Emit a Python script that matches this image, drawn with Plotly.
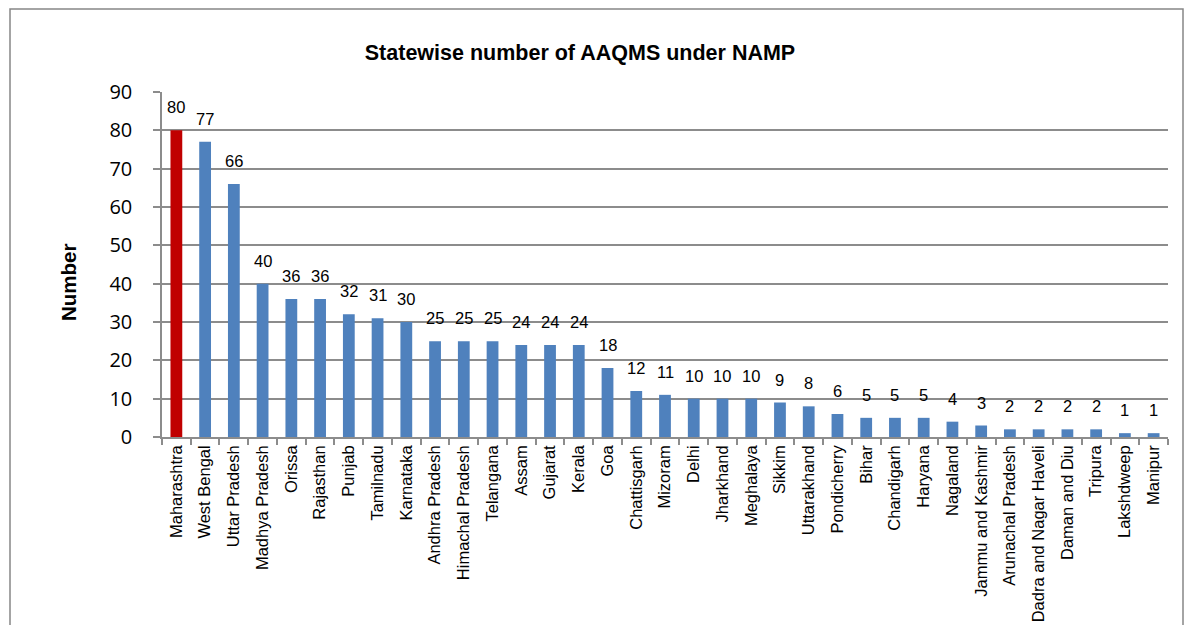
import plotly.graph_objects as go

# Number of AAQMS stations per state under NAMP
states = [
    "Maharashtra", "West Bengal", "Uttar Pradesh", "Madhya Pradesh", "Orissa",
    "Rajasthan", "Punjab", "Tamilnadu", "Karnataka", "Andhra Pradesh",
    "Himachal Pradesh", "Telangana", "Assam", "Gujarat", "Kerala", "Goa",
    "Chattisgarh", "Mizoram", "Delhi", "Jharkhand", "Meghalaya", "Sikkim",
    "Uttarakhand", "Pondicherry", "Bihar", "Chandigarh", "Haryana", "Nagaland",
    "Jammu and Kashmir", "Arunachal Pradesh", "Dadra and Nagar Haveli",
    "Daman and Diu", "Tripura", "Lakshdweep", "Manipur",
]
stations = [80, 77, 66, 40, 36, 36, 32, 31, 30, 25, 25, 25, 24, 24, 24, 18,
            12, 11, 10, 10, 10, 9, 8, 6, 5, 5, 5, 4, 3, 2, 2, 2, 2, 1, 1]

y_ticks = [0, 10, 20, 30, 40, 50, 60, 70, 80, 90]

BLUE = "#4F81BD"
RED = "#C00000"
GRID = "#8C8C8C"
label_font = "Liberation Sans Narrow, Arial Narrow, Liberation Sans, Arial, sans-serif"

colors = [RED] + [BLUE] * (len(states) - 1)

fig = go.Figure()
fig.add_trace(go.Bar(
    x=states,
    y=stations,
    marker=dict(color=colors, line=dict(width=0)),
    width=0.41,
    hoverinfo="x+y",
))

# value labels above each bar
for s, v in zip(states, stations):
    fig.add_annotation(
        x=s, y=v, text=str(v), showarrow=False,
        yanchor="bottom", yshift=12,
        font=dict(family=label_font, size=16.5, color="#000000"),
    )

L, R, T, B = 162, 16, 92, 188
W, H = 1184, 625
pw = W - L - R
ph = H - T - B

# outer chart frame
fig.add_shape(
    type="rect", xref="paper", yref="paper",
    x0=(10 - L) / pw, x1=(1183 - L) / pw,
    y0=(H - B - 660) / ph, y1=(H - B - 9) / ph,
    line=dict(color="#868686", width=1.5), fillcolor="rgba(0,0,0,0)",
    layer="below",
)

# y-axis title
fig.add_annotation(
    xref="paper", yref="paper",
    x=(68 - L) / pw, y=(H - B - 283) / ph,
    text="<b>Number</b>", textangle=-90, showarrow=False,
    xanchor="center", yanchor="middle",
    font=dict(family=label_font, size=20.5, color="#000000"),
)

fig.update_layout(
    width=W, height=H,
    margin=dict(l=L, r=R, t=T, b=B, pad=0, autoexpand=False),
    paper_bgcolor="#FFFFFF",
    plot_bgcolor="#FFFFFF",
    showlegend=False,
    title=dict(
        text="<b>Statewise number of AAQMS under NAMP</b>",
        x=580 / W, xref="container", xanchor="center",
        y=1 - 52 / H, yref="container", yanchor="middle",
        font=dict(family=label_font, size=21.5, color="#000000"),
    ),
    xaxis=dict(
        type="category",
        automargin=False,
        tickangle=-90,
        tickfont=dict(family=label_font, size=16.5, color="#000000"),
        showline=True, linecolor=GRID, linewidth=1.5,
        ticks="outside", ticklen=6, tickcolor=GRID, tickwidth=1.5,
        tickson="boundaries",
        showgrid=False,
        range=[-0.5, len(states) - 0.5],
    ),
    yaxis=dict(
        automargin=False,
        range=[0, 90],
        tickvals=y_ticks,
        tickfont=dict(family="Open Sans, Noto Sans, sans-serif", size=20, color="#000000"),
        showline=True, linecolor=GRID, linewidth=1.5,
        ticks="outside", ticklen=7, tickcolor=GRID, tickwidth=1.5,
        showgrid=True, gridcolor=GRID, gridwidth=1.5,
        zeroline=False,
        ticklabelstandoff=17,
    ),
)

fig.write_html("out.html")
